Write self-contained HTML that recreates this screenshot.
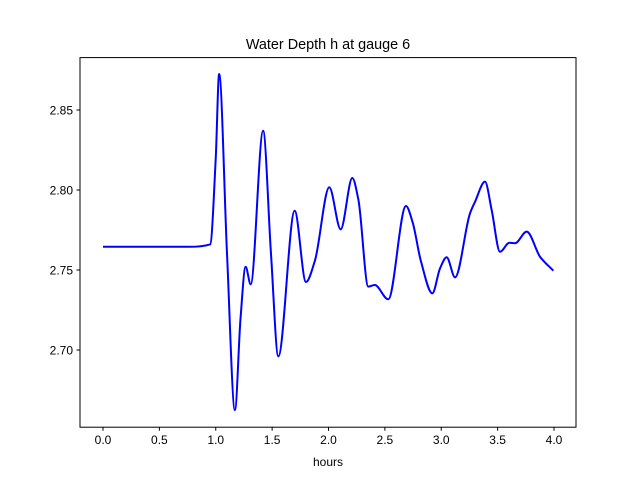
<!DOCTYPE html>
<html><head><meta charset="utf-8"><style>
body{margin:0;background:#fff}
svg{display:block;font-family:"Liberation Sans","DejaVu Sans",sans-serif}
</style></head><body>
<svg id="chart" width="640" height="480" xmlns="http://www.w3.org/2000/svg">
<rect x="0" y="0" width="640" height="480" fill="#fff"/>
<text x="328" y="49" font-size="14.4" text-anchor="middle">Water Depth h at gauge 6</text>
<g id="ticks"></g>
<path id="line" fill="none" stroke="#0000ff" stroke-width="2"/>
<rect x="80" y="57.6" width="496" height="369.6" fill="none" stroke="#000" stroke-width="1"/>
<text x="328" y="466" font-size="12" text-anchor="middle">hours</text>
</svg>
<script>
const hours=[0,0.77,0.95,1.0,1.03,1.10,1.17,1.22,1.265,1.31,1.42,1.49,1.555,1.70,1.80,1.88,2.007,2.108,2.211,2.265,2.353,2.41,2.53,2.687,2.747,2.818,2.921,2.989,3.048,3.122,3.255,3.30,3.388,3.447,3.521,3.604,3.654,3.758,3.876,3.994];
const depth=[2.7645,2.7645,2.766,2.82,2.8725,2.76,2.6625,2.72,2.752,2.741,2.837,2.76,2.696,2.787,2.7425,2.756,2.8017,2.7754,2.8075,2.794,2.7396,2.7406,2.7317,2.79,2.7796,2.756,2.7354,2.751,2.758,2.7454,2.7854,2.7927,2.8052,2.7875,2.7614,2.767,2.7667,2.774,2.7583,2.7496];
const xTicks=[0,0.5,1.0,1.5,2.0,2.5,3.0,3.5,4.0];
const yTicks=[2.70,2.75,2.80,2.85];
const xs=h=>103+h*112.75;
const ys=v=>190-(v-2.80)*1600;
const NS="http://www.w3.org/2000/svg";
const g=document.getElementById('ticks');
function mk(t,a){const e=document.createElementNS(NS,t);for(const k in a)e.setAttribute(k,a[k]);return e;}
xTicks.forEach(t=>{
  const l=mk('line',{x1:xs(t),x2:xs(t),y1:427.2,y2:430.7,stroke:'#000'});
  
  
  g.appendChild(l);
  const tx=mk('text',{x:xs(t),y:444,'font-size':12,'text-anchor':'middle'});
  
  
  tx.textContent=t.toFixed(1);g.appendChild(tx);
});
yTicks.forEach(t=>{
  const l=mk('line',{x1:76.5,x2:80,y1:ys(t),y2:ys(t),stroke:'#000'});
  
  
  g.appendChild(l);
  const tx=mk('text',{x:73,y:ys(t)+4.5,'font-size':12,'text-anchor':'end'});
  
  
  tx.textContent=t.toFixed(2);g.appendChild(tx);
});
// monotone cubic interpolation
const X=hours.map(xs),Y=depth.map(ys),n=X.length;
const dx=[],s=[];
for(let i=0;i<n-1;i++){dx[i]=X[i+1]-X[i];s[i]=(Y[i+1]-Y[i])/dx[i];}
const m=[s[0]];
for(let i=1;i<n-1;i++){
  if(s[i-1]*s[i]<=0)m[i]=0;
  else{const w1=2*dx[i]+dx[i-1],w2=dx[i]+2*dx[i-1];m[i]=(w1+w2)/(w1/s[i-1]+w2/s[i]);}
}
m[n-1]=s[n-2];
let d='M'+X[0]+','+Y[0];
for(let i=0;i<n-1;i++){
  const h=dx[i]/3;
  d+=`C${X[i]+h},${Y[i]+m[i]*h} ${X[i+1]-h},${Y[i+1]-m[i+1]*h} ${X[i+1]},${Y[i+1]}`;
}
document.getElementById('line').setAttribute('d',d);
</script>
</body></html>
